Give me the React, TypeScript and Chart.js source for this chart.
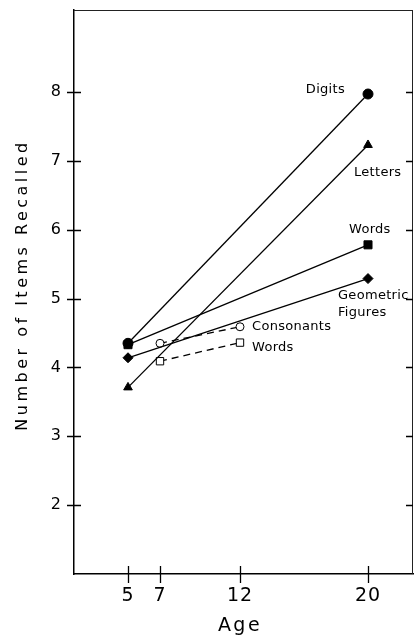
import React, { useEffect, useRef } from 'react';
import { Chart, registerables } from 'chart.js';

Chart.register(...registerables);

// ---- data ----
const ageTicks = [5, 7, 12, 20];
const itemTicks = [2, 3, 4, 5, 6, 7, 8];

const digitsAges = [5, 20];
const digitsValues = [4.35, 7.97];
const lettersAges = [5, 20];
const lettersValues = [3.71, 7.23];
const wordsAges = [5, 20];
const wordsValues = [4.33, 5.78];
const geometricAges = [5, 20];
const geometricValues = [4.14, 5.29];
const consonantsAges = [7, 12];
const consonantsValues = [4.35, 4.59];
const words2Ages = [7, 12];
const words2Values = [4.09, 4.36];

const seriesLabels = ['Digits', 'Letters', 'Words', 'Geometric Figures', 'Consonants', 'Words'];

const toPoints = (xs: number[], ys: number[]) => xs.map((x, i) => ({ x, y: ys[i] }));

// label annotations: dataset index, point index, lines, offsets (px), alignment
const labelSpecs = [
  { ds: 0, pt: 1, lines: ['Digits'], dx: -23, dy: -4, align: 'right' },
  { ds: 1, pt: 1, lines: ['Letters'], dx: -14, dy: 28, align: 'left' },
  { ds: 2, pt: 1, lines: ['Words'], dx: -19, dy: -15, align: 'left' },
  { ds: 3, pt: 1, lines: ['Geometric', 'Figures'], dx: -30, dy: 17, align: 'left' },
  { ds: 4, pt: 1, lines: ['Consonants'], dx: 12, dy: 0, align: 'left' },
  { ds: 5, pt: 1, lines: ['Words'], dx: 12, dy: 5, align: 'left' },
];

const FONT = "'DejaVu Sans', sans-serif";

const zeroPad = (s: any) => {
  s.paddingTop = 0;
  s.paddingBottom = 0;
  s.paddingLeft = 0;
  s.paddingRight = 0;
};

const framePlugin = {
  id: 'frame',
  beforeDraw(chart: any) {
    chart.ctx.letterSpacing = '1px';
  },
  afterDraw(chart: any) {
    const ctx = chart.ctx as CanvasRenderingContext2D;
    const { left, right, top, bottom } = chart.chartArea;
    const xs = chart.scales.x;
    const ys = chart.scales.y;
    ctx.save();
    ctx.letterSpacing = '0px';
    // top and right border
    ctx.strokeStyle = '#222';
    ctx.lineWidth = 1;
    ctx.beginPath();
    ctx.moveTo(left, top + 0.5);
    ctx.lineTo(right, top + 0.5);
    ctx.moveTo(right - 0.5, top);
    ctx.lineTo(right - 0.5, bottom);
    ctx.stroke();
    // ticks
    ctx.strokeStyle = '#000';
    ctx.lineWidth = 1.3;
    ctx.beginPath();
    itemTicks.forEach((v) => {
      const y = Math.round(ys.getPixelForValue(v)) + 0.5;
      ctx.moveTo(left - 7, y);
      ctx.lineTo(left + 7, y);
      ctx.moveTo(right - 7, y);
      ctx.lineTo(right, y);
    });
    ageTicks.forEach((v) => {
      const x = Math.round(xs.getPixelForValue(v)) + 0.5;
      ctx.moveTo(x, bottom - 8);
      ctx.lineTo(x, bottom + 9);
    });
    ctx.stroke();

    // series labels
    ctx.fillStyle = '#000';
    ctx.font = `13px ${FONT}`;
    ctx.textBaseline = 'middle';
    ctx.letterSpacing = '0.3px';
    labelSpecs.forEach((s) => {
      const meta = chart.getDatasetMeta(s.ds);
      const el = meta.data[s.pt];
      if (!el) return;
      ctx.textAlign = s.align as CanvasTextAlign;
      s.lines.forEach((line, i) => {
        ctx.fillText(line, el.x + s.dx, el.y + s.dy + i * 17);
      });
    });

    // axis titles
    ctx.font = `19px ${FONT}`;
    ctx.letterSpacing = '2.5px';
    ctx.textAlign = 'center';
    ctx.fillText('Age', 240, 626);

    ctx.save();
    ctx.translate(23, 285);
    ctx.rotate(-Math.PI / 2);
    ctx.font = `16px ${FONT}`;
    ctx.letterSpacing = '3.5px';
    ctx.fillText('Number of Items Recalled', 0, 0);
    ctx.restore();

    ctx.restore();
    ctx.letterSpacing = '0px';
  },
};

export default function App() {
  const ref = useRef<HTMLCanvasElement | null>(null);

  useEffect(() => {
    if (!ref.current) return;
    const solid = (i: number, xs: number[], ys: number[], style: string, r: number) => ({
      label: seriesLabels[i],
      data: toPoints(xs, ys),
      showLine: true,
      borderColor: '#000',
      borderWidth: 1.3,
      pointStyle: style,
      pointRadius: r,
      pointBackgroundColor: '#000',
      pointBorderColor: '#000',
      pointBorderWidth: 1,
    });
    const dashed = (i: number, xs: number[], ys: number[], style: string, r: number) => ({
      label: seriesLabels[i],
      data: toPoints(xs, ys),
      showLine: true,
      borderColor: '#000',
      borderWidth: 1.3,
      borderDash: [7, 5],
      pointStyle: style,
      pointRadius: r,
      pointBackgroundColor: '#fff',
      pointBorderColor: '#000',
      pointBorderWidth: 1,
    });

    const chart = new Chart(ref.current, {
      type: 'scatter',
      data: {
        datasets: [
          solid(0, digitsAges, digitsValues, 'circle', 5),
          solid(1, lettersAges, lettersValues, 'triangle', 5),
          solid(2, wordsAges, wordsValues, 'rect', 5.7),
          solid(3, geometricAges, geometricValues, 'rectRot', 5),
          dashed(4, consonantsAges, consonantsValues, 'circle', 4),
          dashed(5, words2Ages, words2Values, 'rect', 5.2),
        ] as any,
      },
      options: {
        responsive: false,
        animation: false,
        devicePixelRatio: 1,
        layout: { autoPadding: false, padding: { top: 10, right: 1, left: 0, bottom: 0 } },
        plugins: {
          legend: { display: false },
          tooltip: { enabled: false },
        },
        scales: {
          x: {
            type: 'linear',
            position: 'bottom',
            min: 1.625,
            max: 22.8125,
            afterBuildTicks: (s: any) => {
              s.ticks = ageTicks.map((v) => ({ value: v }));
            },
            afterFit: (s: any) => {
              s.height = 62;
              zeroPad(s);
            },
            grid: { display: false, drawTicks: false },
            border: { display: true, color: '#000', width: 1.5 },
            ticks: {
              autoSkip: false,
              maxRotation: 0,
              padding: 11,
              color: '#000',
              font: { family: FONT, size: 19 },
              callback: (v: any) => String(v),
            },
          },
          y: {
            type: 'linear',
            position: 'left',
            min: 1,
            max: 9.19,
            afterBuildTicks: (s: any) => {
              s.ticks = itemTicks.map((v) => ({ value: v }));
            },
            afterFit: (s: any) => {
              s.width = 74;
              zeroPad(s);
            },
            grid: { display: false, drawTicks: false },
            border: { display: true, color: '#000', width: 1.5 },
            ticks: {
              padding: 12,
              color: '#000',
              font: { family: FONT, size: 16 },
              callback: (v: any) => String(v),
            },
          },
        },
      } as any,
      plugins: [framePlugin],
    });
    return () => chart.destroy();
  }, []);

  return (
    <div style={{ position: 'fixed', left: 0, top: 0, width: 414, height: 636, background: '#fff' }}>
      <canvas ref={ref} width={414} height={636} style={{ width: 414, height: 636, display: 'block' }} />
    </div>
  );
}
